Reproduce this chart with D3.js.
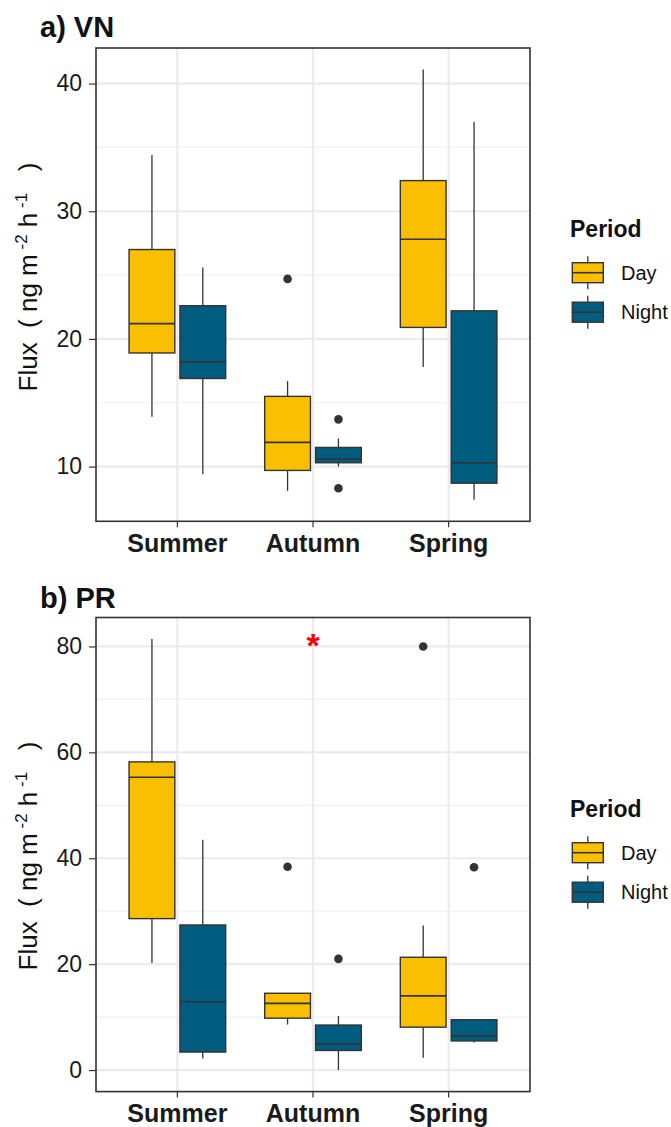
<!DOCTYPE html>
<html lang="en">
<head>
    <meta charset="UTF-8">
    <title>Flux boxplots</title>
    <script src="https://d3js.org/d3.v7.min.js"></script>
    <style>
        body { margin: 0; background: #fff; }
        text { font-family: "Liberation Sans", Arial, Helvetica, sans-serif; }
        .tick line { stroke: #333; stroke-width: 1.2; }
        .tick text { fill: #1a1a1a; }
    </style>
</head>
<body>
<script>
    const width = 671, height = 1127;
    const left = 96, right = 530;

    const categories = ["Summer", "Autumn", "Spring"];
    const periods = ["Day", "Night"];

    // each entry: [lower whisker, Q1, median, Q3, upper whisker]
    const vnDay   = [[13.9, 18.9, 21.2, 27.0, 34.4], [8.1, 9.7, 11.9, 15.5, 16.7], [17.8, 20.9, 27.8, 32.4, 41.1]];
    const vnNight = [[9.4, 16.9, 18.2, 22.6, 25.6], [10.0, 10.3, 10.6, 11.5, 12.2], [7.4, 8.7, 10.3, 22.2, 37.0]];
    const vnOutDay   = [[], [24.7], []];
    const vnOutNight = [[], [13.7, 8.3], []];
    const vnTicks = [10, 20, 30, 40];

    const prDay   = [[20.2, 28.6, 55.3, 58.2, 81.4], [8.6, 9.8, 12.6, 14.5, 14.5], [2.3, 8.1, 14.0, 21.3, 27.3]];
    const prNight = [[2.2, 3.4, 12.9, 27.4, 43.5], [0.0, 3.7, 4.9, 8.5, 10.2], [5.2, 5.5, 6.4, 9.5, 9.5]];
    const prOutDay   = [[], [38.4], [80.0]];
    const prOutNight = [[], [21.0], [38.3]];
    const prTicks = [0, 20, 40, 60, 80];
    const prMarkCategory = "Autumn", prMarkValue = 81.7;

    const fill = d3.scaleOrdinal().domain(periods).range(["#F9BF00", "#015D7F"]);

    const svg = d3.select("body").append("svg")
        .attr("width", width).attr("height", height);

    function panel(o) {
        const g = svg.append("g");
        const stats = {Day: o.day, Night: o.night};
        const outs = {Day: o.outDay, Night: o.outNight};

        const vals = [o.day, o.night, o.outDay, o.outNight].flat(2);
        const [lo, hi] = d3.extent(vals);
        const pad = (hi - lo) * 0.05;
        const y = d3.scaleLinear().domain([lo - pad, hi + pad]).range([o.bottom, o.top]);
        const x = d3.scaleBand().domain(categories).range([left, right])
            .paddingInner(0).paddingOuter(0.1);
        const step = x.step();
        const xs = d3.scaleBand().domain(periods).range([-0.375 * step, 0.375 * step]);
        const bw = xs.bandwidth() * 0.9;
        const cx = (c, p) => x(c) + x.bandwidth() / 2 + xs(p) + xs.bandwidth() / 2;

        // grid
        const tstep = o.ticks[1] - o.ticks[0];
        const minor = d3.range(o.ticks[0] - tstep / 2, hi + pad, tstep)
            .filter(v => v >= lo - pad && v <= hi + pad);
        g.selectAll(".minor").data(minor).join("line")
            .attr("x1", left).attr("x2", right)
            .attr("y1", d => y(d)).attr("y2", d => y(d))
            .attr("stroke", "#f0f0f0").attr("stroke-width", 1.2);
        g.selectAll(".major").data(o.ticks).join("line")
            .attr("x1", left).attr("x2", right)
            .attr("y1", d => y(d)).attr("y2", d => y(d))
            .attr("stroke", "#ebebeb").attr("stroke-width", 2.2);
        g.selectAll(".vgrid").data(categories).join("line")
            .attr("x1", d => x(d) + x.bandwidth() / 2).attr("x2", d => x(d) + x.bandwidth() / 2)
            .attr("y1", o.top).attr("y2", o.bottom)
            .attr("stroke", "#ebebeb").attr("stroke-width", 2.2);

        // boxes
        const boxes = [];
        periods.forEach(p => categories.forEach((c, i) => boxes.push({c, p, s: stats[p][i], out: outs[p][i]})));

        const bg = g.selectAll(".box").data(boxes).join("g");
        bg.append("line")
            .attr("x1", d => cx(d.c, d.p)).attr("x2", d => cx(d.c, d.p))
            .attr("y1", d => y(d.s[0])).attr("y2", d => y(d.s[1]))
            .attr("stroke", "#333").attr("stroke-width", 1.3);
        bg.append("line")
            .attr("x1", d => cx(d.c, d.p)).attr("x2", d => cx(d.c, d.p))
            .attr("y1", d => y(d.s[3])).attr("y2", d => y(d.s[4]))
            .attr("stroke", "#333").attr("stroke-width", 1.3);
        bg.append("rect")
            .attr("x", d => cx(d.c, d.p) - bw / 2).attr("width", bw)
            .attr("y", d => y(d.s[3])).attr("height", d => y(d.s[1]) - y(d.s[3]))
            .attr("fill", d => fill(d.p)).attr("stroke", "#333").attr("stroke-width", 1.4);
        bg.append("line")
            .attr("x1", d => cx(d.c, d.p) - bw / 2).attr("x2", d => cx(d.c, d.p) + bw / 2)
            .attr("y1", d => y(d.s[2])).attr("y2", d => y(d.s[2]))
            .attr("stroke", "#333").attr("stroke-width", 1.6);
        bg.selectAll("circle").data(d => d.out.map(v => ({v, c: d.c, p: d.p}))).join("circle")
            .attr("cx", d => cx(d.c, d.p)).attr("cy", d => y(d.v)).attr("r", 4.3)
            .attr("fill", "#333");

        if (o.markCategory) {
            g.append("text")
                .attr("x", x(o.markCategory) + x.bandwidth() / 2)
                .attr("y", y(o.markValue) + 20)
                .attr("text-anchor", "middle")
                .attr("font-size", 34).attr("font-weight", "bold")
                .attr("fill", "#ff0000").text("*");
        }

        g.append("rect")
            .attr("x", left).attr("y", o.top)
            .attr("width", right - left).attr("height", o.bottom - o.top)
            .attr("fill", "none").attr("stroke", "#333").attr("stroke-width", 1.6);

        // axes
        const ay = g.append("g").attr("transform", `translate(${left},0)`)
            .call(d3.axisLeft(y).tickValues(o.ticks).tickSize(7).tickPadding(7));
        ay.select(".domain").remove();
        ay.selectAll(".tick text").attr("font-size", 23);

        const ax = g.append("g").attr("transform", `translate(0,${o.bottom})`)
            .call(d3.axisBottom(x).tickSize(6).tickPadding(7));
        ax.select(".domain").remove();
        ax.selectAll(".tick text").attr("font-size", 25).attr("font-weight", "bold")
            .attr("fill", "#111");

        // titles
        g.append("text").attr("x", 40).attr("y", o.titleY)
            .attr("font-size", 29).attr("font-weight", "bold").attr("fill", "#111")
            .text(o.title);

        const yl = g.append("text")
            .attr("transform", `translate(37,${o.labelY}) rotate(-90)`)
            .attr("text-anchor", "middle").attr("font-size", 26).attr("fill", "#111")
            .style("white-space", "pre");
        yl.append("tspan").text("Flux  ( ng m");
        yl.append("tspan").attr("dy", -10).attr("font-size", 17).text(" -2");
        yl.append("tspan").attr("dy", 10).text(" h");
        yl.append("tspan").attr("dy", -10).attr("font-size", 17).text(" -1");
        yl.append("tspan").attr("dy", 10).text("   )");

        // legend
        g.append("text").attr("x", 570).attr("y", o.legendY)
            .attr("font-size", 23).attr("font-weight", "bold").attr("fill", "#111")
            .text("Period");
        const lg = g.selectAll(".key").data(periods).join("g")
            .attr("transform", (d, i) => `translate(0,${o.legendY + 35.7 + i * 39.5})`);
        lg.append("line").attr("x1", 587.8).attr("x2", 587.8).attr("y1", -16.5).attr("y2", 16.5)
            .attr("stroke", "#333").attr("stroke-width", 1.3);
        lg.append("rect").attr("x", 572.3).attr("y", -10).attr("width", 31).attr("height", 20)
            .attr("fill", d => fill(d)).attr("stroke", "#333").attr("stroke-width", 1.4);
        lg.append("line").attr("x1", 572.3).attr("x2", 603.3).attr("y1", 0).attr("y2", 0)
            .attr("stroke", "#333").attr("stroke-width", 1.6);
        lg.append("text").attr("x", 621).attr("y", 7)
            .attr("font-size", 20).attr("fill", "#111").text(d => d);
    }

    panel({
        title: "a) VN", titleY: 36.7, top: 48, bottom: 521.3,
        day: vnDay, night: vnNight, outDay: vnOutDay, outNight: vnOutNight,
        ticks: vnTicks, labelY: 277, legendY: 237
    });

    panel({
        title: "b) PR", titleY: 608.3, top: 617.5, bottom: 1091.6,
        day: prDay, night: prNight, outDay: prOutDay, outNight: prOutNight,
        ticks: prTicks, labelY: 856, legendY: 817,
        markCategory: prMarkCategory, markValue: prMarkValue
    });
</script>
</body>
</html>
